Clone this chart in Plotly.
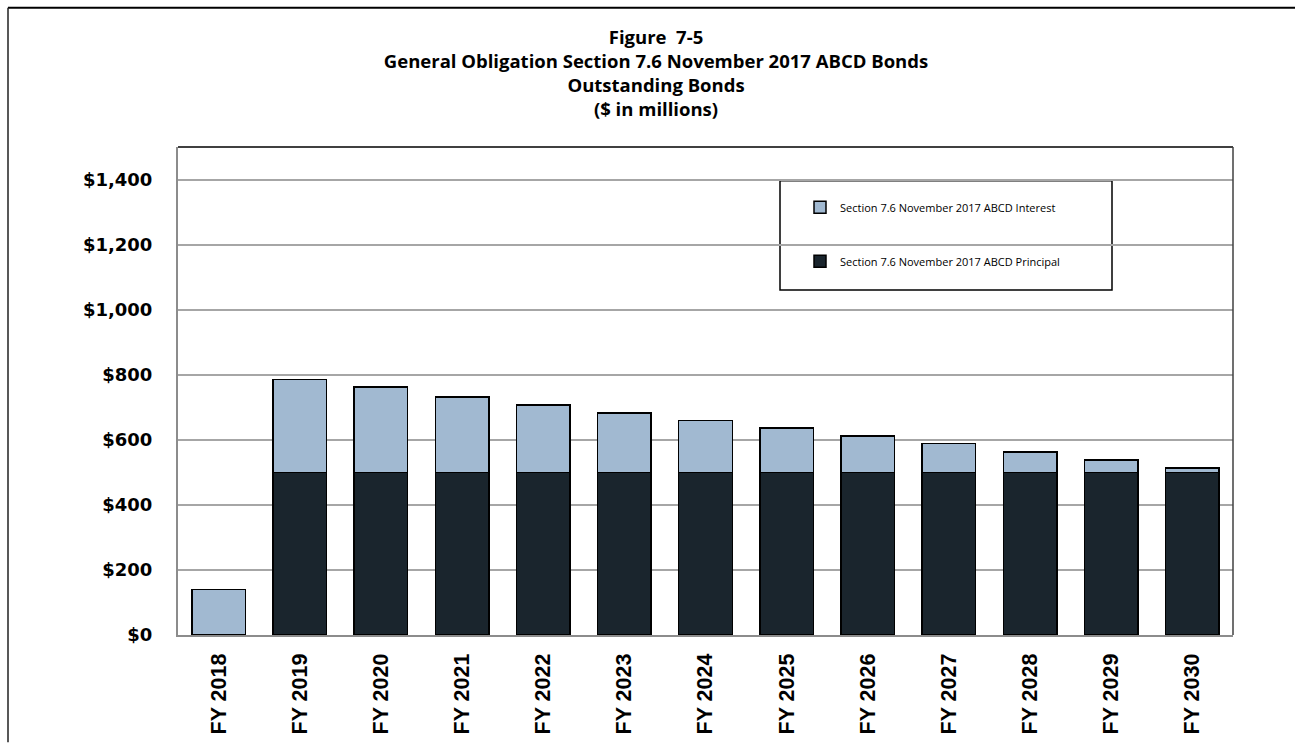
import plotly.graph_objects as go

# Fiscal years and debt service components ($ in millions)
years = ["FY 2018", "FY 2019", "FY 2020", "FY 2021", "FY 2022", "FY 2023", "FY 2024",
         "FY 2025", "FY 2026", "FY 2027", "FY 2028", "FY 2029", "FY 2030"]
principal = [0, 500, 500, 500, 500, 500, 500, 500, 500, 500, 500, 500, 500]
interest = [140, 286, 262, 231, 207, 183, 160, 136, 112, 88, 63, 38, 13]

y_ticks = [0, 200, 400, 600, 800, 1000, 1200, 1400]
y_tick_text = ["$0", "$200", "$400", "$600", "$800", "$1,000", "$1,200", "$1,400"]

interest_name = "Section 7.6 November 2017 ABCD Interest"
principal_name = "Section 7.6 November 2017 ABCD Principal"

W, H = 1295, 746
L, R, T, B = 178, 62, 147, 108
pw, ph = W - L - R, H - T - B


def px_x(x):
    return (x - L) / pw


def px_y(y):
    return (H - B - y) / ph


fig = go.Figure()
fig.add_trace(go.Bar(
    x=years, y=principal, name=principal_name,
    marker=dict(color="#1A252D", line=dict(color="#000000", width=1.5)),
    legendgroup="p", legendrank=2,
))
fig.add_trace(go.Bar(
    x=years, y=interest, name=interest_name,
    marker=dict(color="#A1B9D1", line=dict(color="#000000", width=1.5)),
    legendgroup="i", legendrank=1,
))

shapes = [
    # legend frame
    dict(type="rect", xref="paper", yref="paper",
         x0=px_x(780), x1=px_x(1112), y0=px_y(291), y1=px_y(181),
         line=dict(color="#000000", width=1.5), fillcolor="#FFFFFF", layer="between"),
    # plot frame: top and right edges
    dict(type="line", xref="paper", yref="paper", x0=0, x1=1, y0=1, y1=1,
         line=dict(color="#000000", width=1.5), layer="above"),
    dict(type="line", xref="paper", yref="paper", x0=1, x1=1, y0=0, y1=1,
         line=dict(color="#404040", width=1.5), layer="above"),
    # outer page border
    dict(type="line", xref="paper", yref="paper",
         x0=px_x(8), x1=px_x(1295), y0=px_y(7), y1=px_y(7),
         line=dict(color="#000000", width=2), layer="above"),
    dict(type="line", xref="paper", yref="paper",
         x0=px_x(8), x1=px_x(8), y0=px_y(7), y1=px_y(746),
         line=dict(color="#202020", width=1.5), layer="above"),
]

fig.update_layout(
    width=W, height=H,
    margin=dict(l=L, r=R, t=T, b=B),
    paper_bgcolor="#FFFFFF", plot_bgcolor="#FFFFFF",
    barmode="stack", bargap=0.34,
    title=dict(
        text="Figure  7-5<br>General Obligation Section 7.6 November 2017 ABCD Bonds"
             "<br>Outstanding Bonds<br>($ in millions)",
        x=656 / W, xanchor="center", xref="container",
        y=1 - 44 / H, yanchor="top", yref="container",
        font=dict(family="Open Sans", size=18.5, color="#000000", weight="bold"),
    ),
    legend=dict(
        x=px_x(800), y=px_y(193), xanchor="left", yanchor="top",
        bgcolor="rgba(0,0,0,0)", borderwidth=0,
        traceorder="grouped", tracegroupgap=35, itemwidth=30,
        font=dict(family="Open Sans", size=11, color="#000000"),
    ),
    shapes=shapes,
    xaxis=dict(
        tickangle=-90,
        tickfont=dict(family="Liberation Sans", size=21.5, color="#000000", weight="bold"),
        showline=True, linecolor="#8C8C8C", linewidth=2,
        ticks="outside", ticklen=8, tickcolor="rgba(0,0,0,0)",
        showgrid=False,
    ),
    yaxis=dict(
        range=[0, 1500],
        tickvals=y_ticks, ticktext=y_tick_text,
        tickfont=dict(family="DejaVu Sans", size=18, color="#000000", weight="bold"),
        showline=True, linecolor="#8C8C8C", linewidth=2,
        showgrid=True, gridcolor="#A6A6A6", gridwidth=1.5,
        zeroline=False,
        ticks="outside", ticklen=20, tickcolor="rgba(0,0,0,0)",
    ),
)

fig.write_html("out.html")
